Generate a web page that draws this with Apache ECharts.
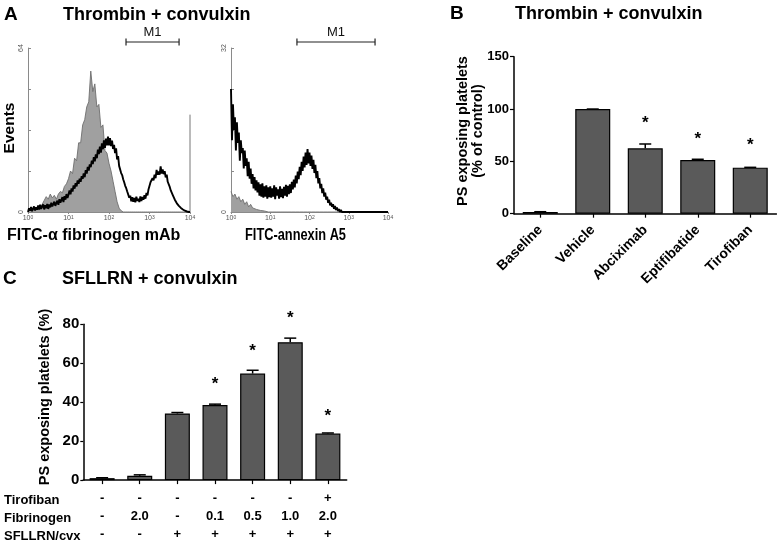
<!DOCTYPE html>
<html><head><meta charset="utf-8">
<script src="https://cdn.jsdelivr.net/npm/echarts@6/dist/echarts.min.js"></script>
<style>html,body{margin:0;padding:0;background:#fff}#c{width:777px;height:544px}</style>
</head><body><div id="c"></div>
<script>
const FONT = "'Liberation Sans', Arial, Helvetica, sans-serif";

// ---------- Panel A: flow cytometry histograms (x in log10 decades) ----------
const controlStep = 0.05;   // control (grey fill) bins
const treatedStep = 0.025;  // treated (black trace) bins
const fibYMax = 64;
const annYMax = 32;
const fibControl = [
  0,1,0.5,1.5,1,2,1.5,3,4.5,6,
  5,7,5.5,6.5,5,7,8,7.5,10,11,
  13,16,15,21,20,27,27,34,36,41,
  43,55,47,50,41,42,33,34,24,23,
  19,16,12,8,4,1.5,0.5,0,0,0,
  0,0,0,0,0,0,0,0,0,0,
  0,0,0,0,0,0,0,0,0,0,
  0,0,0,0,0,0,0,0,0,0,
  0
];
const fibTreated = [
  0,1.5,0.5,2,0.3,1.2,2.2,0.6,1.8,0.9,2.5,1,2.8,1.2,1.7,3,1,2.6,1.5,3.1,
  1.2,2.9,1.8,3.6,2.2,3.1,4,2.4,3.5,4.4,2.8,5,3.6,4.2,5.8,3.9,6.2,4.8,7,5.5,
  6.8,8.4,6.9,9.2,8,10.4,9.1,11.2,10,12.3,11,13,11.8,14,12.9,15.1,13.6,16.3,15,17.6,
  16.2,18.6,17.5,20,18.7,21.4,19.8,22.5,21,24.3,22.6,25.5,23.2,26.8,24.5,28,25,28.6,26,29.4,
  26,28.8,25.7,27.9,24.6,26.2,23,24.8,20.5,21.8,18,18.6,15.2,14.4,12.8,11.6,10.2,9.3,8,7.6,
  5.6,6.4,4.2,5.8,4,5.5,3.8,6,4.4,5.2,3.9,6.1,4.3,5.9,4.8,6.6,5.2,7.4,6.5,8.8,
  9.4,11.6,11,13.2,12.4,14.6,13.2,16.4,14.5,15.8,14.6,17.8,15,16.6,14.8,15.9,13.5,14.6,11.8,12.4,
  9.8,8.4,8.8,6.6,6.8,4.8,5,3.4,3.6,2.4,2.8,1.6,2.1,1,1.4,0.5,1,0.2,0.6,0,
  0
];
const fibLastChannel = 38;
const annControl = [
  4,3,3.5,2.5,3,2,2.5,1.5,2,1,
  1.5,0.8,1,0.5,0.8,0.3,0.5,0.2,0.3,0,
  0,0,0,0,0,0,0,0,0,0,
  0,0,0,0,0,0,0,0,0,0,
  0,0,0,0,0,0,0,0,0,0,
  0,0,0,0,0,0,0,0,0,0,
  0,0,0,0,0,0,0,0,0,0,
  0,0,0,0,0,0,0,0,0,0,
  0
];
const annTreated = [
  24,14,21,16,18.5,12,17.5,13.5,15.5,10,14,11.5,12.5,8.5,12,9,10.5,7,9.8,6.5,
  8.5,5.5,7.4,4.6,6.8,4.2,6.2,3.8,5.8,3.2,5.4,3,5.6,2.8,5,3,5.2,2.6,4.8,2.9,
  5,2.8,4.6,3,5.2,2.5,4.8,3.2,4.4,2.6,5,2.9,4.5,2.7,4.9,3.2,5.3,3,5.1,3.5,
  5.4,3.7,5.9,4.4,6.3,4.8,7.1,5.6,7.9,6.4,8.8,7.2,9.8,8,10.8,8.7,11.6,9.2,12.3,9.5,
  11.6,9,11,8.4,10.2,7.6,9.2,6.6,8,5.6,6.6,4.6,5.5,3.7,4.6,3,3.8,2.4,3,1.8,
  2.4,1.3,1.8,1,1.5,0.6,1.2,0.4,0.9,0.2,0.6,0,0.4,0,0,0,0,0,0,0,
  0,0,0,0,0,0,0,0,0,0,0,0,0,0,0,0,0,0,0,0,
  0,0,0,0,0,0,0,0,0,0,0,0,0,0,0,0,0,0,0,0,
  0
];
const fibGate = [2.42, 3.73];
const annGate = [1.68, 3.67];
const gateLabel = 'M1';

// ---------- Panel B ----------
const bCategories = ['Baseline','Vehicle','Abciximab','Eptifibatide','Tirofiban'];
const bValues = [1.6, 100, 62.5, 51.3, 44];
const bErrors = [0.3, 0, 4.1, 0.7, 0.3];
const bStars = [null, null, 90.4, 75.2, 68.8];

// ---------- Panel C ----------
const cCategories = ['1','2','3','4','5','6','7'];
const cValues = [1.0, 2.2, 34.2, 38.6, 54.7, 70.8, 23.9];
const cErrors = [0.2, 0.5, 0.5, 0.4, 1.7, 2.1, 0.3];
const cStars = [null, null, null, 51.3, 68.1, 85, 35];
const tirofibanRow = ['-','-','-','-','-','-','+'];
const fibrinogenRow = ['-','2.0','-','0.1','0.5','1.0','2.0'];
const sfllrnRow = ['-','-','+','+','+','+','+'];
const tableRowNames = ['Tirofiban','Fibrinogen','SFLLRN/cvx'];

const toPairs = (arr, step) => arr.map((v, i) => [+(i * step).toFixed(3), v]);

function histX(gi){
  return {
    type:'value', gridIndex:gi, min:0, max:4, interval:1,
    axisLine:{show:true, lineStyle:{color:'#8a8a8a', width:1}},
    axisTick:{show:true, length:2, lineStyle:{color:'#8a8a8a'}},
    splitLine:{show:false},
    axisLabel:{
      margin:3,
      formatter: v => '{b|10}{s|' + v + '}',
      rich:{ b:{fontSize:7, color:'#555', fontFamily:FONT}, s:{fontSize:5, color:'#555', fontFamily:FONT, verticalAlign:'top'} }
    }
  };
}
function histY(gi, max){
  return {
    type:'value', gridIndex:gi, min:0, max:max, interval:max/4,
    axisLine:{show:true, lineStyle:{color:'#8a8a8a', width:1}},
    axisTick:{show:true, inside:true, length:3, lineStyle:{color:'#8a8a8a'}},
    splitLine:{show:false},
    axisLabel:{margin:3, rotate:90, fontSize:7, color:'#555', fontFamily:FONT,
      formatter: v => (v === 0 || v === max) ? String(v) : ''}
  };
}
function gateSeries(xi, gate, ymax){
  return {
    type:'custom', xAxisIndex:xi, yAxisIndex:xi, silent:true, clip:false, z:5,
    data:[[gate[0], gate[1]]],
    renderItem:(params, api) => {
      const x1 = api.coord([api.value(0), 0])[0];
      const x2 = api.coord([api.value(1), 0])[0];
      const y = api.coord([0, ymax])[1] - 6;
      const st = {stroke:'#222', lineWidth:1.2};
      return {type:'group', children:[
        {type:'line', shape:{x1:x1, y1:y, x2:x2, y2:y}, style:st},
        {type:'line', shape:{x1:x1, y1:y-3.5, x2:x1, y2:y+3.5}, style:st},
        {type:'line', shape:{x1:x2, y1:y-3.5, x2:x2, y2:y+3.5}, style:st},
        {type:'text', x:(x1+x2)/2, y:y-10, style:{text:gateLabel, fill:'#111', font:'13px ' + FONT, align:'center', verticalAlign:'middle'}}
      ]};
    }
  };
}
function errSeries(xi, values, errs){
  return {
    type:'custom', xAxisIndex:xi, yAxisIndex:xi, silent:true, z:4,
    data: values.map((v, i) => [i, v, errs[i]]),
    renderItem:(params, api) => {
      const x = api.value(0), v = api.value(1), e = api.value(2);
      const p0 = api.coord([x, v]); const p1 = api.coord([x, v + e]);
      const st = {stroke:'#000', lineWidth:1.5};
      return {type:'group', children:[
        {type:'line', shape:{x1:p0[0], y1:p0[1], x2:p1[0], y2:p1[1]}, style:st},
        {type:'line', shape:{x1:p1[0]-6, y1:p1[1], x2:p1[0]+6, y2:p1[1]}, style:st}
      ]};
    }
  };
}
function starSeries(xi, stars){
  return {
    type:'custom', xAxisIndex:xi, yAxisIndex:xi, silent:true, z:6, clip:false,
    data: stars.map((v, i) => v == null ? null : [i, v]).filter(d => d),
    renderItem:(params, api) => {
      const p = api.coord([api.value(0), api.value(1)]);
      return {type:'text', x:p[0], y:p[1] + 4, style:{text:'*', fill:'#000', font:'bold 17px ' + FONT, align:'center', verticalAlign:'middle'}};
    }
  };
}
function txt(x, y, text, size, opts){
  opts = opts || {};
  return {type:'text', x:x, y:y, rotation:opts.rot || 0, scaleX:opts.sx || 1,
    style:{text:text, fill:'#000', font:(opts.normal ? '' : 'bold ') + size + 'px ' + FONT,
      align:opts.align || 'left', verticalAlign:'middle'}};
}

const barStyle = {color:'#5a5a5a', borderColor:'#000', borderWidth:1.2};
const blackAxis = {show:true, lineStyle:{color:'#000', width:1.5}};

const option = {
  animation:false,
  backgroundColor:'#fff',
  grid:[
    {left:28, top:48, width:162, height:164},
    {left:231, top:48, width:157, height:164},
    {left:514, top:56.7, width:262.5, height:157},
    {left:83.3, top:324.3, width:263.4, height:157.4}
  ],
  xAxis:[
    histX(0), histX(1),
    {type:'category', gridIndex:2, data:bCategories,
      axisLine:blackAxis, axisTick:{show:true, alignWithLabel:true, length:4, lineStyle:{color:'#000', width:1.2}},
      axisLabel:{rotate:45, margin:14, fontSize:14, fontWeight:'bold', color:'#000', fontFamily:FONT}},
    {type:'category', gridIndex:3, data:cCategories,
      axisLine:blackAxis, axisTick:{show:true, alignWithLabel:true, length:4, lineStyle:{color:'#000', width:1.2}},
      axisLabel:{margin:9, fontSize:13, fontWeight:'bold', color:'#000', fontFamily:FONT, lineHeight:18.3,
        formatter:(v, i) => tirofibanRow[i] + '\n' + fibrinogenRow[i] + '\n' + sfllrnRow[i]}}
  ],
  yAxis:[
    histY(0, fibYMax), histY(1, annYMax),
    {type:'value', gridIndex:2, min:0, max:150, interval:50,
      axisLine:blackAxis, axisTick:{show:true, length:4, lineStyle:{color:'#000', width:1.2}}, splitLine:{show:false},
      axisLabel:{margin:5, fontSize:13, fontWeight:'bold', color:'#000', fontFamily:FONT}},
    {type:'value', gridIndex:3, min:0, max:80, interval:20,
      axisLine:blackAxis, axisTick:{show:true, length:3, lineStyle:{color:'#000', width:1.2}}, splitLine:{show:false},
      axisLabel:{margin:4, fontSize:15, fontWeight:'bold', color:'#000', fontFamily:FONT}}
  ],
  series:[
    {type:'line', xAxisIndex:0, yAxisIndex:0, data:toPairs(fibControl, controlStep), showSymbol:false, symbol:'none',
      lineStyle:{color:'#6e6e6e', width:0.9}, areaStyle:{color:'#a0a0a0', opacity:1}, z:2},
    {type:'line', xAxisIndex:0, yAxisIndex:0, data:[[4, 0], [4, fibLastChannel]], showSymbol:false, symbol:'none',
      lineStyle:{color:'#777', width:1}, z:2},
    {type:'line', xAxisIndex:0, yAxisIndex:0, data:toPairs(fibTreated, treatedStep), showSymbol:false, symbol:'none',
      lineStyle:{color:'#000', width:1.9}, z:3},
    gateSeries(0, fibGate, fibYMax),
    {type:'line', xAxisIndex:1, yAxisIndex:1, data:toPairs(annControl, controlStep), showSymbol:false, symbol:'none',
      lineStyle:{color:'#6e6e6e', width:0.9}, areaStyle:{color:'#a0a0a0', opacity:1}, z:2},
    {type:'line', xAxisIndex:1, yAxisIndex:1, data:toPairs(annTreated, treatedStep), showSymbol:false, symbol:'none',
      lineStyle:{color:'#000', width:1.9}, z:3},
    gateSeries(1, annGate, annYMax),
    {type:'bar', xAxisIndex:2, yAxisIndex:2, data:bValues, barWidth:35, itemStyle:barStyle, z:2},
    errSeries(2, bValues, bErrors),
    starSeries(2, bStars),
    {type:'bar', xAxisIndex:3, yAxisIndex:3, data:cValues, barWidth:25, itemStyle:barStyle, z:2},
    errSeries(3, cValues, cErrors),
    starSeries(3, cStars)
  ],
  graphic:[
    txt(4, 15, 'A', 19),
    txt(63, 15, 'Thrombin + convulxin', 18),
    txt(450, 14, 'B', 19),
    txt(515, 14, 'Thrombin + convulxin', 18),
    txt(3, 279, 'C', 19),
    txt(62, 279, 'SFLLRN + convulxin', 18),
    txt(10, 128, 'Events', 15.5, {rot:Math.PI/2, align:'center'}),
    txt(7, 236, 'FITC-\u03b1 fibrinogen mAb', 16),
    txt(245, 236, 'FITC-annexin A5', 16, {sx:0.8}),
    txt(463, 131, 'PS exposing platelets', 14.5, {rot:Math.PI/2, align:'center'}),
    txt(478, 131, '(% of control)', 14.5, {rot:Math.PI/2, align:'center'}),
    txt(45, 397, 'PS exposing platelets (%)', 14.5, {rot:Math.PI/2, align:'center'}),
    txt(4, 500, tableRowNames[0], 13),
    txt(4, 518.3, tableRowNames[1], 13),
    txt(4, 536.7, tableRowNames[2], 13)
  ]
};
const chart = echarts.init(document.getElementById('c'), null, {renderer:'canvas'});
chart.setOption(option);
</script>
</body></html>
